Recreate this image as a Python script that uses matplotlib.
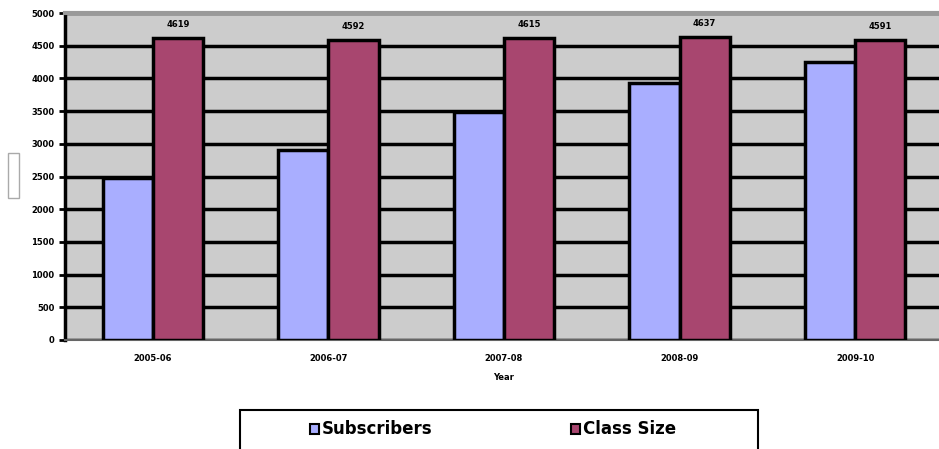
import matplotlib
matplotlib.use("Agg")
import matplotlib.pyplot as plt
from matplotlib.patches import Rectangle
import numpy as np

# data
years = ['2005-06', '2006-07', '2007-08', '2008-09', '2009-10']
subscribers = [2480, 2900, 3490, 3930, 4250]
class_size = [4619, 4592, 4615, 4637, 4591]
yticks = list(range(0, 5001, 500))
series_names = ['Subscribers', 'Class Size']
colors = ['#a9aeff', '#a8466f']

fig = plt.figure(figsize=(9.39, 4.49), dpi=100)
ax = fig.add_axes([0.0692, 0.2428, 0.935, 0.728])
ax.set_facecolor('#cccccc')

x = np.arange(len(years))
w = 0.286
ax.bar(x - w / 2, subscribers, w, color=colors[0], edgecolor='black',
       linewidth=2.5, zorder=3)
ax.bar(x + w / 2, class_size, w, color=colors[1], edgecolor='black',
       linewidth=2.5, zorder=3)

for xi, v in zip(x, class_size):
    ax.text(xi + w / 2, v + 140, str(v), ha='center', va='bottom',
            fontsize=6, fontweight='bold')

ax.set_xlim(-0.5, len(years) - 0.5)
ax.set_ylim(0, 5000)
ax.set_yticks(yticks)
ax.set_yticklabels([str(t) for t in yticks], fontsize=6, fontweight='bold')
ax.set_xticks(x)
ax.set_xticklabels(years, fontsize=6, fontweight='bold')
ax.tick_params(axis='x', length=0, pad=10)
ax.tick_params(axis='y', length=4, width=2)
ax.set_xlabel('Year', fontsize=6, fontweight='bold', labelpad=7)
ax.yaxis.grid(True, color='black', linewidth=2.5, zorder=1)
ax.set_axisbelow(True)

ax.spines['right'].set_visible(False)
ax.spines['top'].set_color('#999999')
ax.spines['top'].set_linewidth(3)
ax.spines['left'].set_linewidth(2.5)
ax.spines['bottom'].set_color('#666666')
ax.spines['bottom'].set_linewidth(1.5)

# empty y-axis title box
fig.patches.append(Rectangle((0.008, 0.56), 0.012, 0.1, transform=fig.transFigure,
                             facecolor='white', edgecolor='#aaaaaa', linewidth=1))

# legend box, drawn by hand to match the original placement
W, H = 939, 449
fig.patches.append(Rectangle((240 / W, -4 / H), 518 / W, 43 / H, transform=fig.transFigure,
                             facecolor='white', edgecolor='black', linewidth=1.5))
ly = (H - 429) / H
for name, col, px in zip(series_names, colors, [310, 571]):
    fig.patches.append(Rectangle((px / W, ly - 5 / H), 9 / W, 10 / H,
                                 transform=fig.transFigure, facecolor=col,
                                 edgecolor='black', linewidth=1.5))
    fig.text((px + 12) / W, ly, name, fontsize=12, fontweight='bold',
             ha='left', va='center')

fig.savefig('out.png', dpi=100)
